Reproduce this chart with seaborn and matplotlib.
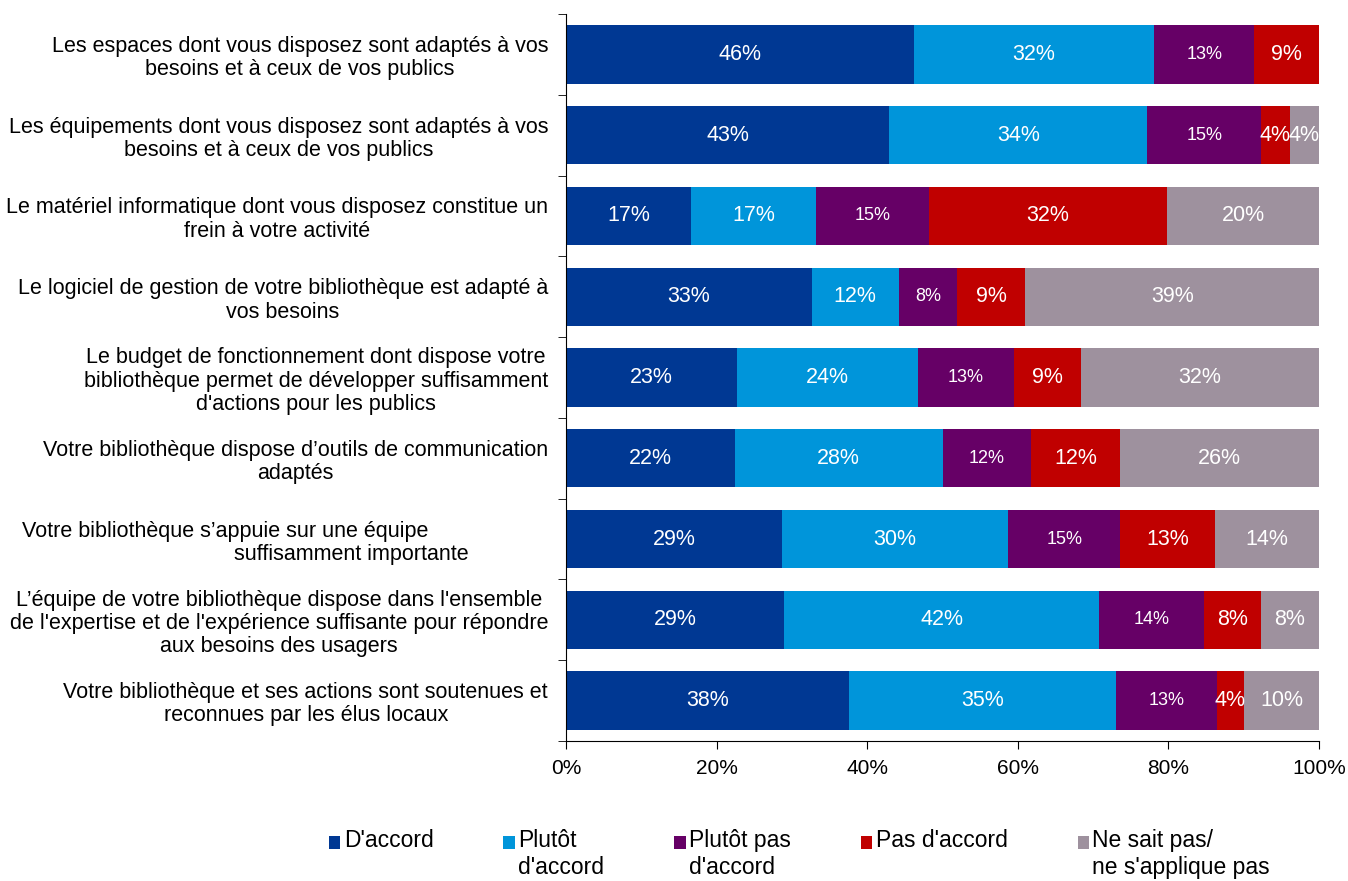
import numpy as np
import pandas as pd
import matplotlib.pyplot as plt
import seaborn as sns
from matplotlib.patches import Patch

# Données (pourcentages)
questions = [
    "Les espaces dont vous disposez sont adaptés à vos\nbesoins et à ceux de vos publics",
    "Les équipements dont vous disposez sont adaptés à vos\nbesoins et à ceux de vos publics",
    "Le matériel informatique dont vous disposez constitue un\nfrein à votre activité",
    "Le logiciel de gestion de votre bibliothèque est adapté à\nvos besoins",
    "Le budget de fonctionnement dont dispose votre\nbibliothèque permet de développer suffisamment\nd'actions pour les publics",
    "Votre bibliothèque dispose d’outils de communication\nadaptés",
    "Votre bibliothèque s’appuie sur une équipe" + " " * 20 + "\n" + " " * 22 + "suffisamment importante",
    "L’équipe de votre bibliothèque dispose dans l'ensemble\nde l'expertise et de l'expérience suffisante pour répondre\naux besoins des usagers",
    "Votre bibliothèque et ses actions sont soutenues et\nreconnues par les élus locaux",
]
reponses = ["D'accord", "Plutôt\nd'accord", "Plutôt pas\nd'accord", "Pas d'accord",
            "Ne sait pas/\nne s'applique pas"]

d_accord = [46.2, 42.9, 16.6, 32.6, 22.7, 22.4, 28.7, 29.0, 37.6]
plutot_d_accord = [31.9, 34.3, 16.6, 11.6, 24.0, 27.6, 30.0, 41.8, 35.4]
plutot_pas = [13.3, 15.1, 15.0, 7.7, 12.8, 11.8, 14.9, 13.9, 13.4]
pas_d_accord = [8.6, 3.8, 31.6, 9.1, 8.9, 11.8, 12.6, 7.6, 3.6]
ne_sait_pas = [0.0, 3.9, 20.2, 39.0, 31.6, 26.4, 13.8, 7.7, 10.0]

couleurs = ["#003893", "#0095DA", "#660066", "#C00000", "#9E919E"]

df = pd.DataFrame({
    "question": questions,
    reponses[0]: d_accord,
    reponses[1]: plutot_d_accord,
    reponses[2]: plutot_pas,
    reponses[3]: pas_d_accord,
    reponses[4]: ne_sait_pas,
})
valeurs = df[reponses].values / 100
cumul = valeurs.cumsum(axis=1)

plt.rcParams['font.family'] = ['Liberation Sans', 'DejaVu Sans']
fig = plt.figure(figsize=(13.48, 8.81), dpi=100)
ax = fig.add_axes([0.42, 0.159, 0.5585, 0.825])

# Barres empilées : on dessine les cumuls du plus grand au plus petit
for i in range(len(reponses) - 1, -1, -1):
    sns.barplot(x=cumul[:, i], y=df["question"], orient="h", color=couleurs[i],
                saturation=1, width=0.72, linewidth=0, ax=ax)

# Étiquettes des pourcentages
for r in range(len(questions)):
    for i in range(len(reponses)):
        v = valeurs[r, i]
        if v <= 0:
            continue
        centre = cumul[r, i] - v / 2
        taille = 13 if i == 2 else 15.5
        ax.text(centre, r, "{:.0f}%".format(v * 100), ha="center", va="center",
                color="white", fontsize=taille)

ax.set_xlim(0, 1)
ax.set_ylim(8.5, -0.5)
ax.set_xticks(np.arange(0, 1.01, 0.2))
ax.set_xticklabels(["{:.0f}%".format(t * 100) for t in np.arange(0, 1.01, 0.2)], fontsize=15)
ax.tick_params(axis="x", length=6, pad=7)
ax.set_yticks(range(len(questions)))
ax.set_yticklabels(questions, fontsize=15.5)
for t in ax.get_yticklabels():
    t.set_multialignment("center")
    t.set_linespacing(1.15)
ax.set_yticks(np.arange(-0.5, len(questions), 1), minor=True)
ax.tick_params(axis="y", which="major", length=0, pad=13)
ax.tick_params(axis="y", which="minor", length=6)
ax.set_xlabel("")
ax.set_ylabel("")
for s in ["top", "right"]:
    ax.spines[s].set_visible(False)

# Légende : toutes les étiquettes sur deux lignes, carré aligné sur la première
etiquettes = [e if "\n" in e else e + "\n " for e in reponses]
poignees = [Patch(facecolor=c, edgecolor="none") for c in couleurs]
leg = fig.legend(poignees, etiquettes, loc="upper left", bbox_to_anchor=(0.244, 0.059),
                 ncol=5, frameon=False, fontsize=16.5, handlelength=0.5, handleheight=0.5,
                 handletextpad=0.15, columnspacing=3.05, borderaxespad=0, borderpad=0)
for h in leg.legend_handles:
    h.set_y(h.get_y() + 9)

plt.savefig("out.png", dpi=100)
